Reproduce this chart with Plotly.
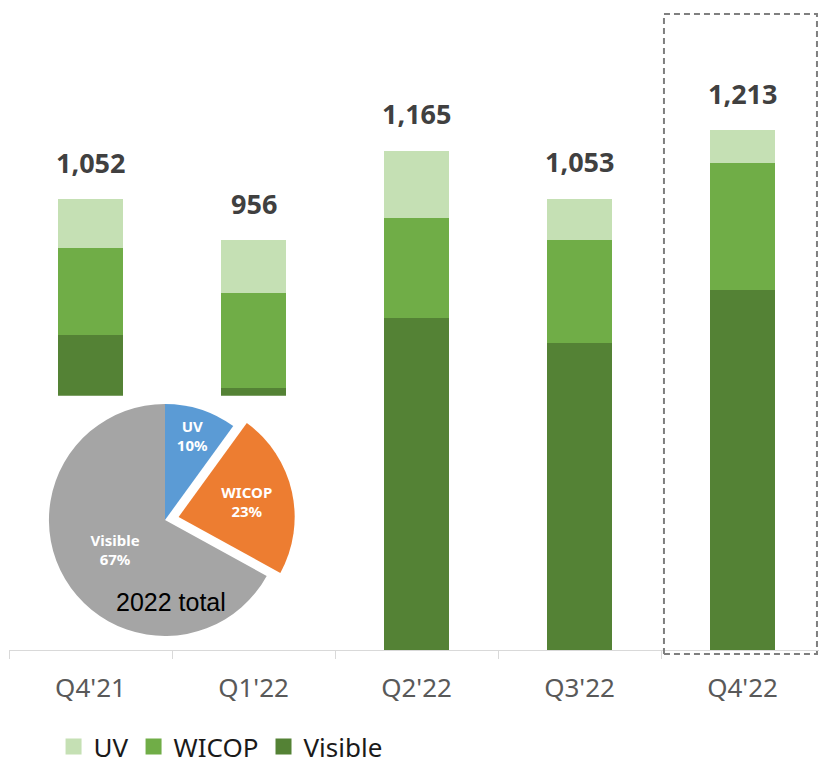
import plotly.graph_objects as go

QUARTERS = ["Q4'21", "Q1'22", "Q2'22", "Q3'22", "Q4'22"]
UV = [114, 123, 157, 97, 77]
WICOP = [203, 222, 233, 240, 296]
VISIBLE = [735, 611, 775, 716, 840]
TOTALS = [1052, 956, 1165, 1053, 1213]

PIE_LABELS = ["UV", "WICOP", "Visible"]
PIE_SHARES = [10, 23, 67]

BAR_COLORS = {"UV": "#c5e0b4", "WICOP": "#70ad47", "Visible": "#548235"}
PIE_COLORS = ["#5b9bd5", "#ed7d31", "#a5a5a5"]
FONT = "Noto Sans"

x_pos = list(range(len(QUARTERS)))

fig = go.Figure()

# stacked bars, bottom to top
for name, values in [("Visible", VISIBLE), ("WICOP", WICOP), ("UV", UV)]:
    fig.add_trace(
        go.Bar(
            x=x_pos,
            y=values,
            name=name,
            width=0.4,
            marker={"color": BAR_COLORS[name], "line": {"width": 0}},
            showlegend=False,
            hoverinfo="skip",
        )
    )

# white box behind the inset pie (hides the lower part of the first two bars)
fig.add_trace(
    go.Scatter(
        x=[-0.5, 1.5, 1.5, -0.5],
        y=[0, 0, 593, 593],
        fill="toself",
        fillcolor="white",
        mode="lines",
        line={"width": 0, "color": "white"},
        showlegend=False,
        hoverinfo="skip",
    )
)

# legend proxies with bigger squares
for name in ["UV", "WICOP", "Visible"]:
    fig.add_trace(
        go.Scatter(
            x=[None],
            y=[None],
            mode="markers",
            name=name,
            marker={"symbol": "square", "size": 16, "color": BAR_COLORS[name]},
        )
    )

fig.add_trace(
    go.Pie(
        labels=PIE_LABELS,
        values=PIE_SHARES,
        sort=False,
        direction="clockwise",
        rotation=0,
        pull=[0, 0.12, 0],
        marker={"colors": PIE_COLORS, "line": {"width": 0}},
        texttemplate="<b>%{label}<br>%{percent:.0%}</b>",
        textposition="inside",
        insidetextorientation="horizontal",
        textfont={"color": "white", "size": 15, "family": FONT},
        domain={"x": [0.0321, 0.3531], "y": [0.0, 0.40625]},
        showlegend=False,
        hoverinfo="skip",
    )
)

for x, total in zip(x_pos, TOTALS):
    fig.add_annotation(
        x=x,
        y=total,
        text=f"<b>{total:,}</b>",
        showarrow=False,
        yanchor="middle",
        yshift=37,
        font={"size": 27, "color": "#404040", "family": FONT},
    )

fig.add_annotation(
    x=0.2,
    y=0.075,
    xref="paper",
    yref="paper",
    xanchor="center",
    yanchor="middle",
    text="2022 total",
    showarrow=False,
    font={"size": 25, "color": "black", "family": "Liberation Sans, Arial"},
)

fig.add_shape(
    type="rect",
    xref="paper",
    yref="paper",
    x0=0.8086,
    x1=0.9975,
    y0=-0.00625,
    y1=0.99375,
    line={"color": "#7f7f7f", "width": 2, "dash": "6px,4px"},
)

fig.update_layout(
    width=819,
    height=770,
    barmode="stack",
    plot_bgcolor="white",
    paper_bgcolor="white",
    margin={"l": 9, "r": 0, "t": 10, "b": 120, "autoexpand": False},
    font={"family": FONT},
    legend={
        "orientation": "h",
        "traceorder": "normal",
        "x": 0.055,
        "xanchor": "left",
        "y": -0.1875,
        "yanchor": "bottom",
        "font": {"size": 26, "color": "#1a1a1a", "family": FONT},
        "itemclick": False,
    },
)
fig.update_xaxes(
    range=[-0.5, 4.469],
    tickmode="array",
    tickvals=x_pos,
    ticktext=QUARTERS,
    ticks="",
    ticklabelstandoff=15,
    tickfont={"size": 26, "color": "#595959", "family": FONT},
    showline=True,
    linecolor="#d9d9d9",
    linewidth=1,
    showgrid=False,
    zeroline=False,
    minor={
        "tickmode": "array",
        "tickvals": [-0.5, 0.5, 1.5, 2.5, 3.5, 4.5],
        "ticks": "outside",
        "ticklen": 8,
        "tickcolor": "#d9d9d9",
        "showgrid": False,
    },
)
fig.update_yaxes(range=[0, 1493], visible=False, showgrid=False)

fig.write_html(
    "out.html",
    config={"displayModeBar": False},
    post_script="document.body.style.margin='0';document.body.style.overflow='hidden';",
)
